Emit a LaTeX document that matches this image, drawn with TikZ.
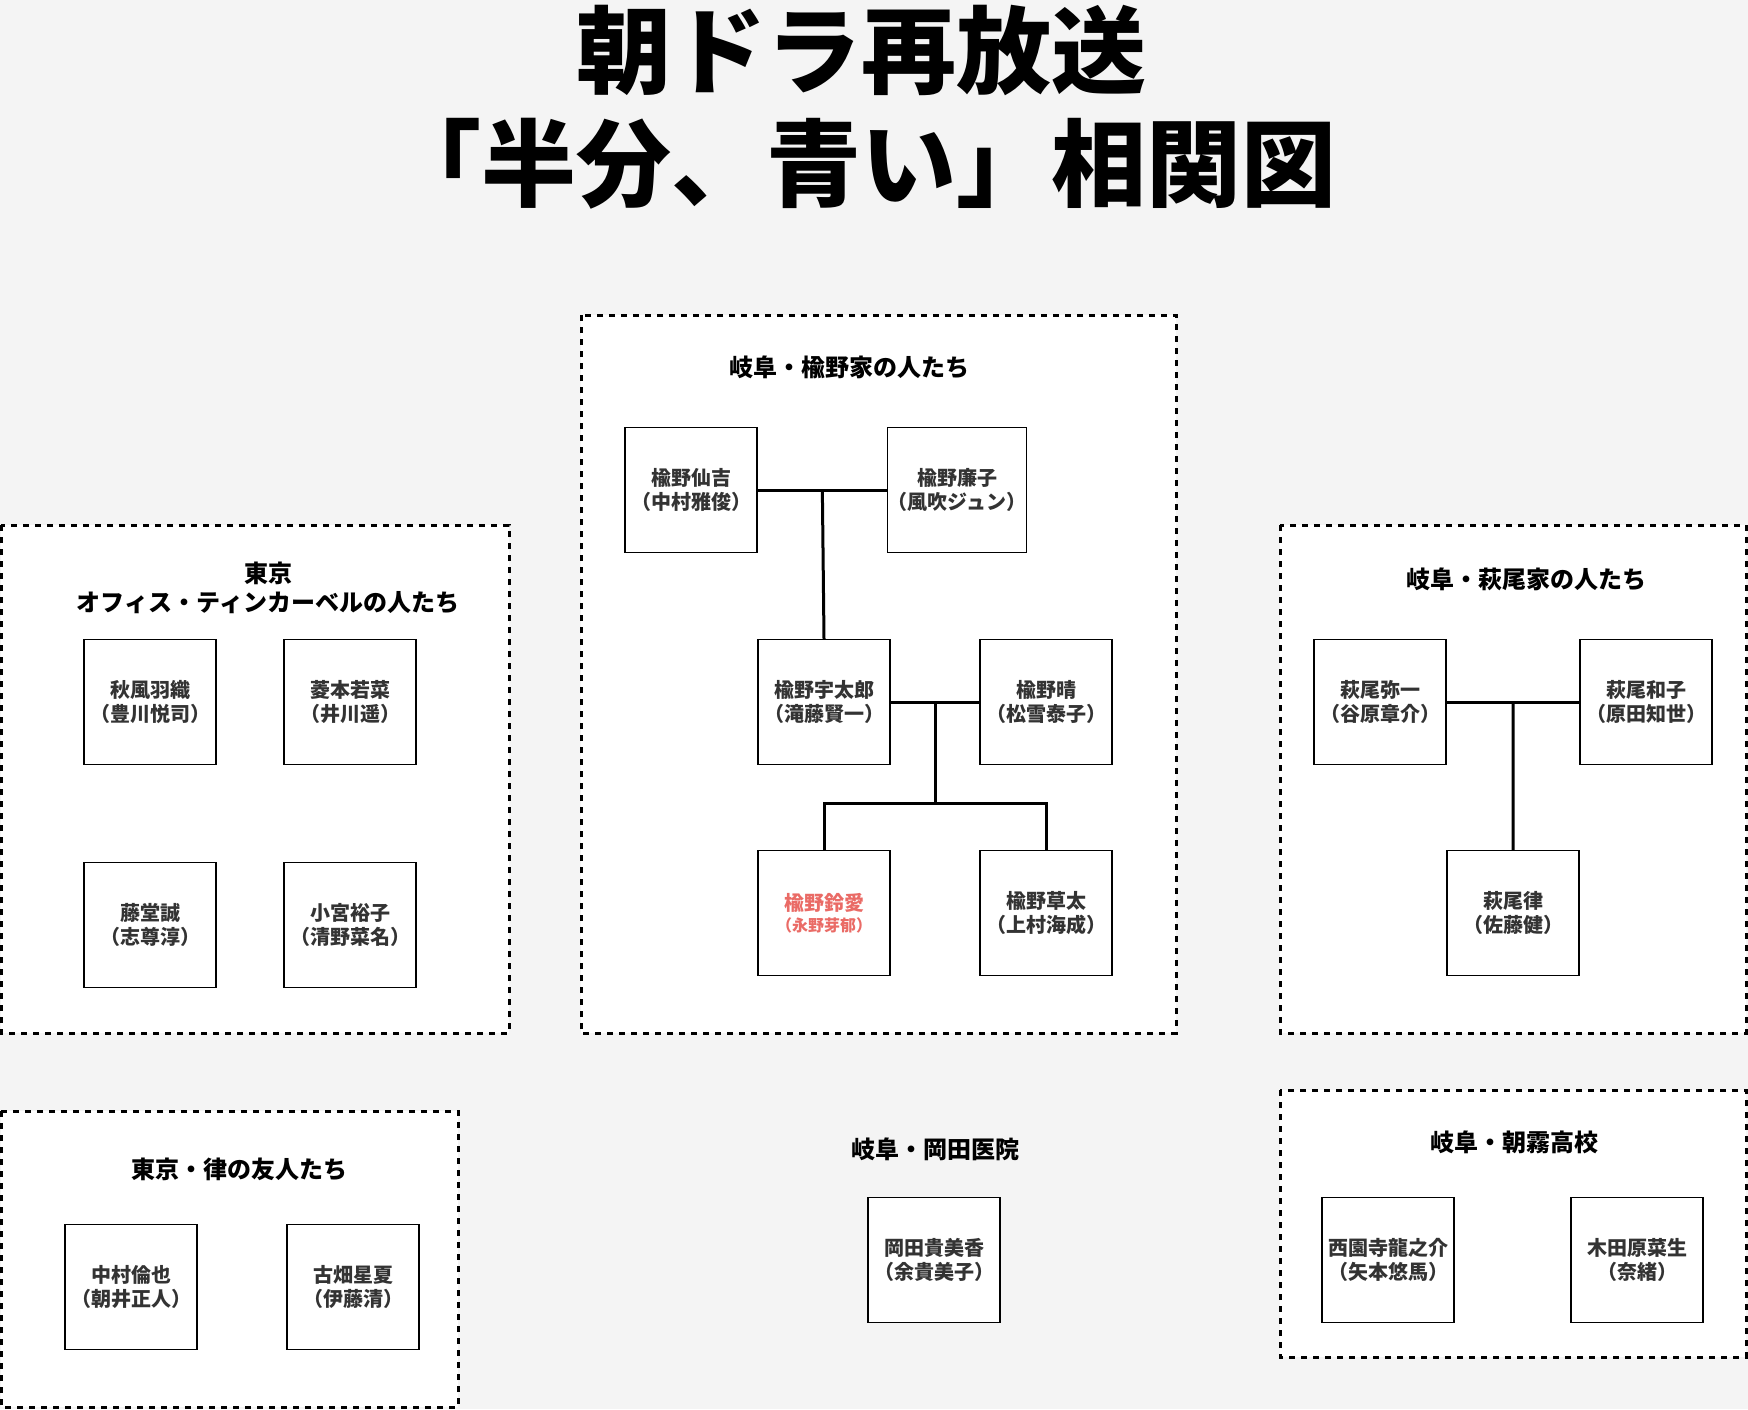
\documentclass[tikz,border=0pt]{standalone}
\usepackage{fontspec}
\usetikzlibrary{calc}
\setmainfont{Noto Sans CJK JP}
\definecolor{bg}{HTML}{F4F4F4}
\definecolor{txt}{HTML}{333333}
\definecolor{redtxt}{HTML}{EA6B66}
\tikzset{
  grp/.style={draw=black, fill=white, line width=3pt, dash pattern=on 6pt off 6pt},
  person/.style={draw=black, fill=white, line width=1.1pt, minimum width=132pt, minimum height=125pt,
    inner sep=0pt, align=center, text=txt, font=\fontsize{20}{23.5}\selectfont\bfseries},
  grptitle/.style={align=center, text=black, font=\fontsize{24}{29}\selectfont\bfseries},
  bigtitle/.style={text=black, font=\fontsize{95}{114}\selectfont\bfseries, inner sep=0pt},
  link/.style={draw=black, line width=3pt}
}
\begin{document}
\begin{tikzpicture}[x=1pt,y=-1pt]
\fill[bg] (0,0) rectangle (1748,1409);
\useasboundingbox (0,0) rectangle (1748,1409);

% title
\node[bigtitle] (title1) at (861,50) {朝ドラ再放送};
\node[bigtitle] (title2) at (861,164) {「半分、青い」相関図};

% group containers
\draw[grp] (581,315) rectangle (1176,1033);
\draw[grp] (1,525) rectangle (509,1033);
\draw[grp] (1280,525) rectangle (1746,1033);
\draw[grp] (1,1111) rectangle (458,1407);
\draw[grp] (1280,1090) rectangle (1746,1357);

% group titles
\node[grptitle] (tNire) at (849,367) {岐阜・楡野家の人たち};
\node[grptitle] (tOffice) at (268,588) {東京\\オフィス・ティンカーベルの人たち};
\node[grptitle] (tHagio) at (1526,579) {岐阜・萩尾家の人たち};
\node[grptitle] (tFriends) at (239,1169) {東京・律の友人たち};
\node[grptitle] (tAsagiri) at (1514,1142) {岐阜・朝霧高校};
\node[grptitle] (tOkada) at (935,1149) {岐阜・岡田医院};

% Nireno family
\node[person] (senkichi) at (691,490) {楡野仙吉\\（中村雅俊）};
\node[person] (renko) at (957,490) {楡野廉子\\（風吹ジュン）};
\node[person] (utaro) at (824,702) {楡野宇太郎\\（滝藤賢一）};
\node[person] (haru) at (1046,702) {楡野晴\\（松雪泰子）};
\node[person, text=redtxt] (suzume) at (824,913) {楡野鈴愛\\[-2pt]{\fontsize{16}{19}\selectfont（永野芽郁）}};
\node[person] (sota) at (1046,913) {楡野草太\\（上村海成）};

% Tokyo office
\node[person] (akikaze) at (150,702) {秋風羽織\\（豊川悦司）};
\node[person] (hishimoto) at (350,702) {菱本若菜\\（井川遥）};
\node[person] (todo) at (150,925) {藤堂誠\\（志尊淳）};
\node[person] (komiya) at (350,925) {小宮裕子\\（清野菜名）};

% Hagio family
\node[person] (yaichi) at (1380,702) {萩尾弥一\\（谷原章介）};
\node[person] (kazuko) at (1646,702) {萩尾和子\\（原田知世）};
\node[person] (ritsu) at (1513,913) {萩尾律\\（佐藤健）};

% friends
\node[person] (nakamura) at (131,1287) {中村倫也\\（朝井正人）};
\node[person] (furuhata) at (353,1287) {古畑星夏\\（伊藤清）};

% Okada
\node[person] (okada) at (934,1260) {岡田貴美香\\（余貴美子）};

% Asagiri
\node[person] (saionji) at (1388,1260) {西園寺龍之介\\（矢本悠馬）};
\node[person] (kitahara) at (1637,1260) {木田原菜生\\（奈緒）};

% connectors
\coordinate (m1) at ($(senkichi.east)!0.5!(renko.west)$);
\draw[link] (senkichi.east) -- (renko.west);
\draw[link] (m1) -- (utaro.north);

\coordinate (m2) at ($(utaro.east)!0.5!(haru.west)$);
\coordinate (m2b) at ([yshift=-101pt]m2);
\draw[link] (utaro.east) -- (haru.west);
\draw[link] (m2) -- (m2b);
\draw[link] (suzume.north) -- (suzume.north |- m2b) -- (sota.north |- m2b) -- (sota.north);

\coordinate (m3) at ($(yaichi.east)!0.5!(kazuko.west)$);
\draw[link] (yaichi.east) -- (kazuko.west);
\draw[link] (m3) -- (ritsu.north);
\end{tikzpicture}
\end{document}
